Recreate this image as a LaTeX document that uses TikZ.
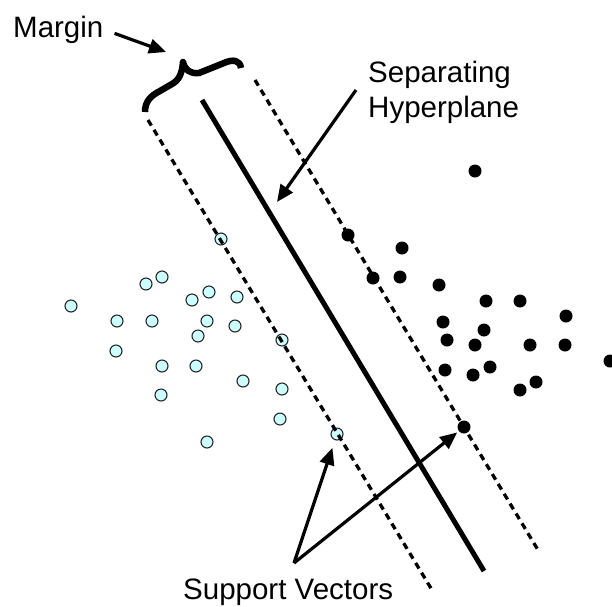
\documentclass[tikz,border=0pt]{standalone}
\usepackage{fontspec}
\setmainfont{Liberation Sans}
\usetikzlibrary{arrows.meta}
\definecolor{svcyan}{RGB}{204,255,255}
\begin{document}
\begin{tikzpicture}[x=1pt,y=-1pt,
  negdot/.style={circle,draw=black!85,line width=1.1pt,fill=svcyan,minimum size=12pt,inner sep=0pt},
  posdot/.style={circle,fill=black,minimum size=13pt,inner sep=0pt},
  lbl/.style={anchor=base west,inner sep=0pt,font=\fontsize{29.5}{35}\selectfont},
  hyper/.style={line width=5pt},
  marginline/.style={line width=3.3pt,dash pattern=on 6.5pt off 5pt},
  pointer/.style={line width=3.2pt,-{Triangle[length=17pt,width=14.5pt]}},
  bracestyle/.style={line width=6.5pt,line join=round}]
\useasboundingbox (0,0) rectangle (612,606);

% negative class (cyan circles)
\foreach \i/\p in {1/{(71,306)},2/{(117,321)},3/{(152,321)},4/{(116,351)},5/{(146,284)},
  6/{(162,277)},7/{(192,300)},8/{(209,292)},9/{(237,297)},10/{(207,321)},11/{(235,326)},
  12/{(198,336)},13/{(162,366)},14/{(196,366)},15/{(161,395)},16/{(243,381)},17/{(282,389)},
  18/{(280,419)},19/{(207,442)}}
  \node[negdot] (n\i) at \p {};
\node[negdot] (sv1) at (221,239) {};
\node[negdot] (sv2) at (282,340) {};
\node[negdot] (sv3) at (337,434) {};

% positive class (black dots)
\foreach \i/\p in {1/{(475,171)},2/{(402,248)},3/{(400,277)},4/{(439,285)},5/{(486,301)},
  6/{(520,301)},7/{(566,316)},8/{(443,322)},9/{(484,330)},10/{(447,340)},11/{(475,345)},
  12/{(530,345)},13/{(565,345)},14/{(610,361)},15/{(445,370)},16/{(473,375)},17/{(490,367)},
  18/{(520,390)},19/{(536,382)}}
  \node[posdot] (p\i) at \p {};
\node[posdot] (sv4) at (348,235) {};
\node[posdot] (sv5) at (373,278) {};
\node[posdot] (sv6) at (464,427) {};

% hyperplane and margins
\coordinate (hypA) at (202,100);
\coordinate (hypB) at (484,571);
\coordinate (lmA) at (148,120);
\coordinate (lmB) at (432,590);
\coordinate (rmA) at (255,80);
\coordinate (rmB) at (538,550);
\draw[hyper] (hypA) -- (hypB);
\draw[marginline] (lmA) -- (lmB);
\draw[marginline] (rmA) -- (rmB);

% margin brace
\draw[bracestyle] (145,112) .. controls (145,102) and (150,96) .. (160,91)
  -- (172,84) .. controls (179,80) and (182,74) .. (183,62)
  .. controls (185,70) and (190,74) .. (199,73)
  -- (224,63) .. controls (233,59) and (240,60) .. (241,68);

% labels
\node[lbl] (margin) at (13,37) {Margin};
\node[lbl] (sep) at (368,82) {Separating};
\node[lbl] (hyp) at (368,117) {Hyperplane};
\node[lbl] (sv) at (183,599) {Support Vectors};

% pointers
\coordinate (mtip) at (166,52);
\draw[pointer] ([xshift=11pt,yshift=-4pt]margin.east) -- (mtip);
\coordinate (hyptip) at (277,202);
\draw[pointer] ([xshift=-12pt,yshift=-8pt]sep.base west) -- (hyptip);
\coordinate (svo) at (294,563);
\draw[pointer,shorten >=8pt] (svo) -- (sv3);
\draw[pointer,shorten >=2pt] (svo) -- (sv6);
\end{tikzpicture}
\end{document}
